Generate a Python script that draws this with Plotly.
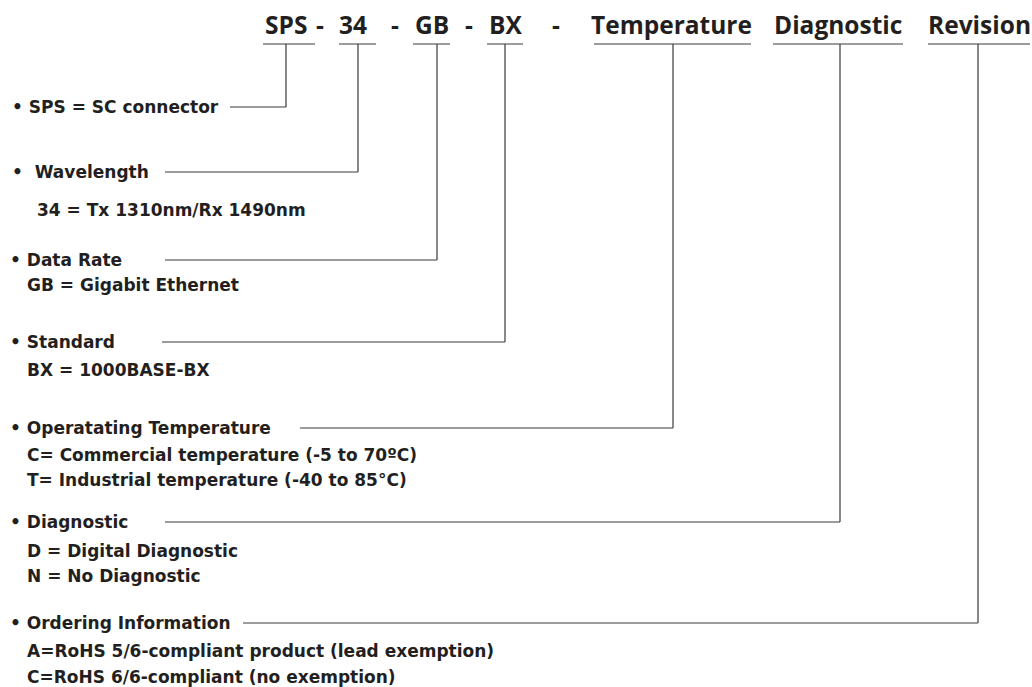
import plotly.graph_objects as go

# Part-number segments shown in the header
codes = ["SPS", "34", "GB", "BX", "Temperature", "Diagnostic", "Revision"]
separators = ["-", "-", "-", "-"]

# Legend entries: heading for each segment and its explanation lines
headings = ["SPS = SC connector", " Wavelength", "Data Rate", "Standard",
            "Operatating Temperature", "Diagnostic", "Ordering Information"]
details = [
    [],
    ["34 = Tx 1310nm/Rx 1490nm"],
    ["GB = Gigabit Ethernet"],
    ["BX = 1000BASE-BX"],
    ["C= Commercial temperature (-5 to 70ºC)", "T= Industrial temperature (-40 to 85°C)"],
    ["D = Digital Diagnostic", "N = No Diagnostic"],
    ["A=RoHS 5/6-compliant product (lead exemption)", "C=RoHS 6/6-compliant (no exemption)"],
]

# ---- layout geometry (pixels) ----
W, H = 1032, 687
TXT = "#231f20"
LINE = "#3a3a3a"
HFONT = "Open Sans"
LFONT = "DejaVu Sans"

code_center = [286, 353, 432, 505, 671, 838, 979]
code_ul = [(263, 315), (339, 376), (413, 450), (487, 523), (594, 751), (773, 903), (928, 1030)]
code_drop = [286, 358, 437, 505, 673, 840, 978]
sep_x = [320, 395, 469, 556]
header_y = 24
ul_y = 44

head_x = [10, 10, 8, 8, 8, 8, 8]
head_y = [107, 172, 260, 342, 428, 522, 623]
line_start = [230, 165, 165, 162, 300, 165, 243]
detail_x = [35, 35, 25, 25, 25, 25, 25]
detail_y = [[], [210], [285], [370], [455, 480], [551, 576], [651, 677]]

fig = go.Figure()
shapes = []
annotations = []

for i, c in enumerate(codes):
    annotations.append(dict(x=code_center[i], y=header_y, text=f"<b>{c}</b>", showarrow=False,
                            xanchor="center", yanchor="middle",
                            font=dict(family=HFONT, size=24.5, color=TXT)))
    x0, x1 = code_ul[i]
    shapes.append(dict(type="line", x0=x0, x1=x1, y0=ul_y, y1=ul_y, line=dict(color=LINE, width=1.2)))
    # connector: vertical drop then horizontal to heading
    shapes.append(dict(type="line", x0=code_drop[i], x1=code_drop[i], y0=ul_y, y1=head_y[i],
                       line=dict(color=LINE, width=1.2)))
    shapes.append(dict(type="line", x0=line_start[i], x1=code_drop[i], y0=head_y[i], y1=head_y[i],
                       line=dict(color=LINE, width=1.2)))

for j, s in enumerate(separators):
    annotations.append(dict(x=sep_x[j], y=header_y, text=f"<b>{s}</b>", showarrow=False,
                            xanchor="center", yanchor="middle",
                            font=dict(family=HFONT, size=24.5, color=TXT)))

for i, h in enumerate(headings):
    annotations.append(dict(x=head_x[i], y=head_y[i], text=f"<b>• {h}</b>", showarrow=False,
                            xanchor="left", yanchor="middle",
                            font=dict(family=LFONT, size=17, color=TXT)))
    for k, d in enumerate(details[i]):
        annotations.append(dict(x=detail_x[i], y=detail_y[i][k], text=f"<b>{d}</b>", showarrow=False,
                                xanchor="left", yanchor="middle",
                                font=dict(family=LFONT, size=17, color=TXT)))

fig.update_layout(
    width=W, height=H,
    margin=dict(l=0, r=0, t=0, b=0),
    paper_bgcolor="white", plot_bgcolor="white",
    xaxis=dict(range=[0, W], visible=False, fixedrange=True),
    yaxis=dict(range=[H, 0], visible=False, fixedrange=True),
    shapes=shapes, annotations=annotations, showlegend=False,
)

fig.write_html("out.html", config={"displayModeBar": False},
               post_script="document.body.style.margin='0';document.body.style.overflow='hidden';")
